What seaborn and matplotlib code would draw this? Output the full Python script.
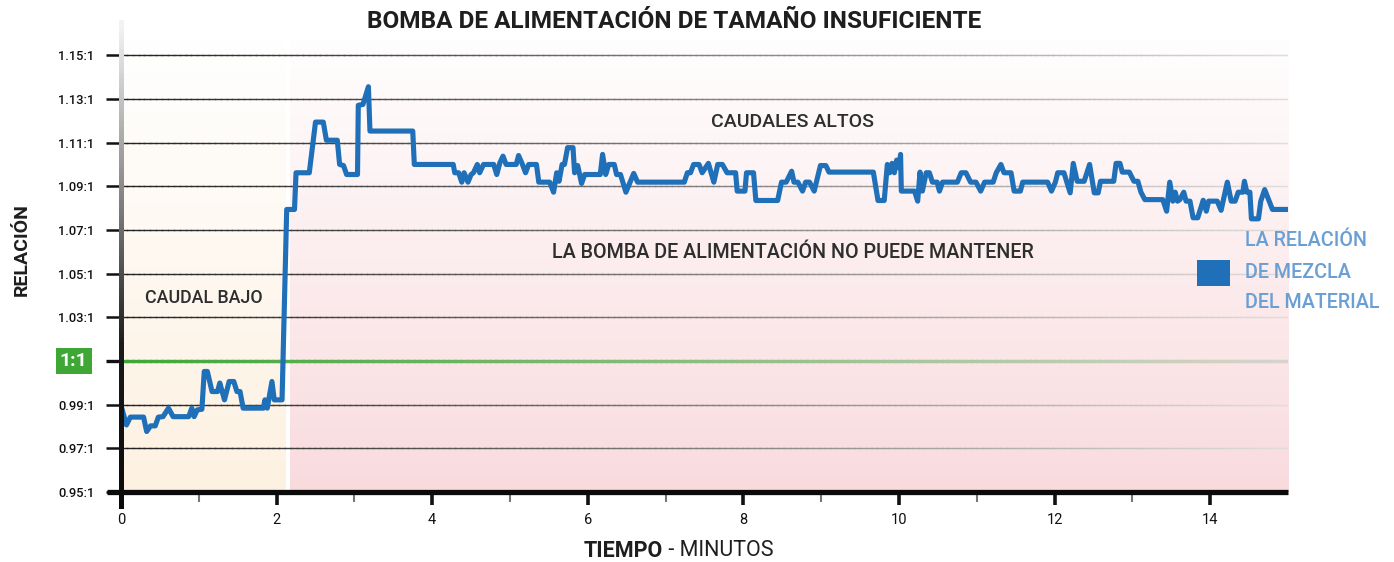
import numpy as np
import pandas as pd
import matplotlib
matplotlib.use("Agg")
import matplotlib.pyplot as plt
import seaborn as sns
from matplotlib.collections import LineCollection
from matplotlib.colors import LinearSegmentedColormap, to_rgba
from matplotlib.patches import Patch
from matplotlib import font_manager

# ---------------- data ----------------
time_min = [0.01, 0.07, 0.12, 0.29, 0.33, 0.38, 0.44, 0.48, 0.54, 0.61, 0.67, 0.87, 0.91, 0.94,
            0.98, 1.04, 1.07, 1.11, 1.17, 1.24, 1.27, 1.33, 1.39, 1.45, 1.49, 1.53, 1.57, 1.83,
            1.85, 1.88, 1.94, 1.97, 2.07, 2.13, 2.23, 2.25, 2.42, 2.50, 2.60, 2.64, 2.78, 2.81,
            2.86, 2.90, 3.04, 3.05, 3.11, 3.18, 3.20, 3.75, 3.77, 4.27, 4.29, 4.34, 4.38, 4.41,
            4.46, 4.50, 4.53, 4.58, 4.61, 4.66, 4.79, 4.83, 4.87, 4.91, 4.95, 5.08, 5.11, 5.16,
            5.20, 5.24, 5.34, 5.37, 5.51, 5.56, 5.60, 5.63, 5.67, 5.70, 5.74, 5.81, 5.83, 5.87,
            5.92, 5.96, 6.16, 6.19, 6.23, 6.27, 6.34, 6.37, 6.42, 6.49, 6.59, 6.64, 7.24, 7.28,
            7.32, 7.36, 7.43, 7.47, 7.55, 7.62, 7.67, 7.73, 7.79, 7.90, 7.92, 8.02, 8.04, 8.13,
            8.16, 8.44, 8.49, 8.55, 8.62, 8.65, 8.70, 8.76, 8.80, 8.85, 8.91, 8.99, 9.06, 9.10,
            9.67, 9.73, 9.81, 9.85, 9.88, 9.91, 9.94, 9.97, 10.00, 10.02, 10.03, 10.20, 10.24,
            10.27, 10.30, 10.35, 10.39, 10.43, 10.49, 10.52, 10.56, 10.75, 10.80, 10.86, 10.92,
            10.99, 11.05, 11.10, 11.21, 11.25, 11.31, 11.35, 11.44, 11.48, 11.56, 11.59, 11.91,
            11.96, 12.01, 12.04, 12.12, 12.20, 12.24, 12.29, 12.38, 12.45, 12.51, 12.56, 12.59,
            12.76, 12.79, 12.84, 12.87, 12.96, 13.02, 13.07, 13.11, 13.16, 13.39, 13.44, 13.48,
            13.52, 13.55, 13.58, 13.61, 13.66, 13.69, 13.74, 13.78, 13.84, 13.91, 13.95, 13.98,
            14.09, 14.14, 14.22, 14.27, 14.32, 14.36, 14.42, 14.44, 14.47, 14.51, 14.53, 14.62,
            14.65, 14.70, 14.80, 15.00]
ratio = [0.9884, 0.9807, 0.9843, 0.9843, 0.9777, 0.9803, 0.9803, 0.9843, 0.9845, 0.9884, 0.9845,
         0.9845, 0.9884, 0.9845, 0.9876, 0.9879, 1.0052, 1.0052, 0.9960, 0.9960, 0.9999, 0.9922,
         1.0006, 1.0006, 0.9960, 0.9960, 0.9884, 0.9884, 0.9922, 0.9884, 1.0006, 0.9922, 0.9922,
         1.0794, 1.0794, 1.0962, 1.0962, 1.1194, 1.1194, 1.1111, 1.1111, 1.1000, 1.0995, 1.0954,
         1.0954, 1.1271, 1.1275, 1.1356, 1.1153, 1.1153, 1.1000, 1.1000, 1.0962, 1.0962, 1.0919,
         1.0962, 1.0919, 1.0954, 1.0962, 1.1000, 1.0962, 1.1000, 1.1000, 1.0954, 1.1008, 1.1038,
         1.1000, 1.1000, 1.1041, 1.1000, 1.0962, 1.1000, 1.1000, 1.0919, 1.0919, 1.0873, 1.0962,
         1.0923, 1.1000, 1.1000, 1.1077, 1.1077, 1.0962, 1.0995, 1.0913, 1.0954, 1.0954, 1.1046,
         1.0954, 1.1000, 1.1000, 1.0954, 1.0954, 1.0873, 1.0959, 1.0919, 1.0919, 1.0962, 1.0962,
         1.1000, 1.1000, 1.0962, 1.1005, 1.0919, 1.1000, 1.1000, 1.0962, 1.0962, 1.0878, 1.0878,
         1.0962, 1.0962, 1.0835, 1.0835, 1.0919, 1.0919, 1.0969, 1.0919, 1.0919, 1.0878, 1.0919,
         1.0919, 1.0878, 1.0995, 1.0995, 1.0965, 1.0965, 1.0835, 1.0835, 1.1000, 1.0962, 1.1005,
         1.0962, 1.1020, 1.0985, 1.1046, 1.0878, 1.0878, 1.0832, 1.0965, 1.0878, 1.0962, 1.0962,
         1.0919, 1.0919, 1.0878, 1.0919, 1.0919, 1.0962, 1.0962, 1.0919, 1.0919, 1.0878, 1.0919,
         1.0919, 1.0962, 1.1000, 1.0962, 1.0962, 1.0878, 1.0878, 1.0919, 1.0919, 1.0878, 1.0919,
         1.0962, 1.0962, 1.0870, 1.1005, 1.0923, 1.0923, 1.1000, 1.0870, 1.0870, 1.0923, 1.0923,
         1.1005, 1.1005, 1.0965, 1.0965, 1.0923, 1.0923, 1.0873, 1.0839, 1.0839, 1.0786, 1.0919,
         1.0832, 1.0873, 1.0832, 1.0839, 1.0873, 1.0832, 1.0832, 1.0756, 1.0756, 1.0836, 1.0786,
         1.0832, 1.0832, 1.0790, 1.0919, 1.0832, 1.0832, 1.0873, 1.0873, 1.0923, 1.0873, 1.0873,
         1.0751, 1.0751, 1.0832, 1.0885, 1.0794, 1.0794]

y_ticks = [0.95, 0.97, 0.99, 1.01, 1.03, 1.05, 1.07, 1.09, 1.11, 1.13, 1.15]
y_tick_labels = ["0.95:1", "0.97:1", "0.99:1", "", "1.03:1", "1.05:1", "1.07:1",
                 "1.09:1", "1.11:1", "1.13:1", "1.15:1"]
x_major = [0, 2, 4, 6, 8, 10, 12, 14]
x_minor = [1, 3, 5, 7, 9, 11, 13]
one_to_one = 1.01
low_flow_end = 2.11
high_flow_start = 2.17
x_max = 15.0
y_min, y_max = 0.95, 1.157

title = "BOMBA DE ALIMENTACIÓN DE TAMAÑO INSUFICIENTE"
label_high = "CAUDALES ALTOS"
label_pump = "LA BOMBA DE ALIMENTACIÓN NO PUEDE MANTENER"
label_low = "CAUDAL BAJO"
legend_label = "LA RELACIÓN\nDE MEZCLA\nDEL MATERIAL"

LINE = "#1f70b8"
GREEN = "#3fa736"
TEXT = "#2e2e2e"

# ---------------- style ----------------
sns.set_style("white")
avail = {f.name for f in font_manager.fontManager.ttflist}
cond = "Liberation Sans Narrow" if "Liberation Sans Narrow" in avail else "Roboto"
plt.rcParams['font.family'] = [cond, 'DejaVu Sans']

fig = plt.figure(figsize=(13.94, 5.62), dpi=100)
ax = fig.add_axes([121 / 1394, 70 / 562, 1167 / 1394, 452 / 562])
ax.set_xlim(0, x_max)
ax.set_ylim(y_min, y_max)


def vgrad(x0, x1, top, bottom):
    cm = LinearSegmentedColormap.from_list("g", [bottom, top])
    grad = np.linspace(0, 1, 256).reshape(-1, 1)
    ax.imshow(grad, extent=[x0, x1, y_min, y_max], origin="lower", cmap=cm,
              aspect="auto", zorder=0, interpolation="bilinear")


vgrad(0, low_flow_end, "#ffffff", "#fdf1e1")
vgrad(high_flow_start, x_max, "#fffefe", "#f9dbde")
ax.set_xlim(0, x_max)
ax.set_ylim(y_min, y_max)


def hgrad_line(y, c0, c1, lw, z):
    xs = np.linspace(0, x_max, 200)
    segs = [[(xs[i], y), (xs[i + 1], y)] for i in range(len(xs) - 1)]
    a, b = np.array(to_rgba(c0)), np.array(to_rgba(c1))
    cols = [a + (b - a) * (i / (len(segs) - 1)) for i in range(len(segs))]
    ax.add_collection(LineCollection(segs, colors=cols, linewidths=lw, zorder=z,
                                     capstyle="projecting"))


for yt in y_ticks:
    if abs(yt - one_to_one) < 1e-9 or abs(yt - y_min) < 1e-9:
        continue
    hgrad_line(yt, "#222222", "#e2dcdc", 1.0, 1)
hgrad_line(one_to_one, GREEN, "#d8d4cc", 2.4, 2)

# main series
df = pd.DataFrame({"t": time_min, "r": ratio})
sns.lineplot(data=df, x="t", y="r", sort=False, estimator=None, color=LINE,
             lw=3.7, ax=ax, zorder=5, solid_joinstyle="round")
ax.set_xlabel("")
ax.set_ylabel("")

# axes / ticks
for s in ax.spines.values():
    s.set_visible(False)
ax.set_yticks(y_ticks)
ax.set_yticklabels(y_tick_labels)
ax.set_xticks(x_major)
ax.set_xticks(x_minor, minor=True)
ax.tick_params(axis="y", which="major", length=11, width=1.8, color="#111111",
               pad=8, labelsize=9.3, labelcolor="#111111", left=True)
ax.tick_params(axis="x", which="major", length=9, width=2.6, color="#111111",
               pad=6, labelsize=10.5, labelcolor="#111111", bottom=True)
ax.tick_params(axis="x", which="minor", length=7, width=1.5, color="#777777", bottom=True)
for lab in ax.get_yticklabels():
    lab.set_fontweight("medium")
ax.yaxis.get_major_ticks()[3].tick1line.set_color(GREEN)
ax.yaxis.get_major_ticks()[3].tick1line.set_markeredgewidth(2.4)

# bottom spine (thick black, extending left past the axis)
ax.plot([-0.012, 1.0], [0, 0], transform=ax.transAxes, color="#0a0a0a", lw=3.8,
        clip_on=False, zorder=6, solid_capstyle="butt")
# left spine with vertical gradient
ys = np.linspace(-0.03, 1.04, 120)
segs = [[(0, ys[i]), (0, ys[i + 1])] for i in range(len(ys) - 1)]
cm = LinearSegmentedColormap.from_list("sp", ["#0a0a0a", "#1a1a1a", "#8a8a8a", "#f2f2f2"])
cols = [cm(i / (len(segs) - 1)) for i in range(len(segs))]
lc = LineCollection(segs, colors=cols, linewidths=3.6, transform=ax.transAxes,
                    zorder=6, clip_on=False, capstyle="projecting", antialiaseds=False)
ax.add_collection(lc)

# "1:1" label
ax.text(-0.0405, one_to_one, "1:1", transform=ax.get_yaxis_transform(),
        ha="center", va="center", color="white", fontsize=14, fontweight="bold",
        bbox=dict(boxstyle="square,pad=0.22", fc=GREEN, ec="none"), zorder=7)

# annotations
ax.text(8.63, 1.1193, label_high, ha="center", va="center", fontsize=14, color=TEXT,
        fontweight="medium")
ax.text(8.63, 1.0596, label_pump, ha="center", va="center", fontsize=14.2, color=TEXT,
        fontweight="medium")
ax.text(1.07, 1.039, label_low, ha="center", va="center", fontsize=12.8, color=TEXT,
        fontweight="medium")

# legend
leg = ax.legend(handles=[Patch(facecolor=LINE, edgecolor="none", label=legend_label)],
                loc="center left", bbox_to_anchor=(1197 / 1394, 1 - 272 / 562),
                bbox_transform=fig.transFigure, frameon=False, fontsize=14.2,
                labelcolor="#6a9fd4", handlelength=1.65, handleheight=1.65,
                handletextpad=0.8, borderpad=0, borderaxespad=0)
for t in leg.get_texts():
    t.set_linespacing(1.8)
    t.set_fontweight("medium")

# titles / labels
fig.text(674 / 1394, 1 - 22 / 562, title, ha="center", va="center", fontsize=17.6,
         fontweight="bold", color="#1e1e1e")
fig.text(22 / 1394, 1 - 250 / 562, "RELACIÓN", rotation=90, ha="center", va="center",
         fontsize=14, fontweight="bold", color="#1e1e1e")
fig.text(663 / 1394, 1 - 551 / 562, "TIEMPO", ha="right", va="center", fontsize=15.5,
         fontweight="bold", color="#1e1e1e")
fig.text(663 / 1394, 1 - 551 / 562, " - MINUTOS", ha="left", va="center", fontsize=15.5,
         color="#1e1e1e")

fig.savefig("out.png", dpi=100, facecolor="white")
